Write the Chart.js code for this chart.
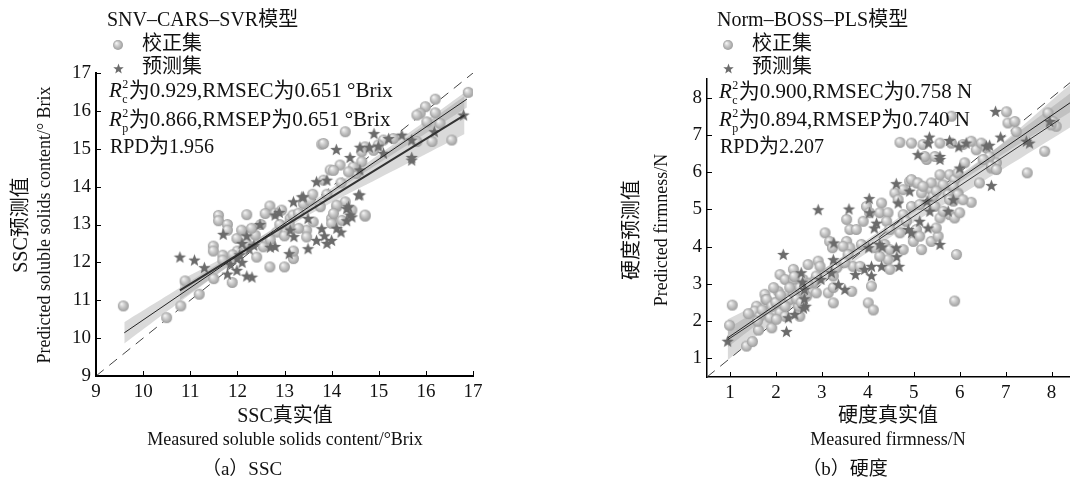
<!DOCTYPE html>
<html><head><meta charset="utf-8">
<script src="https://cdn.jsdelivr.net/npm/chart.js@4/dist/chart.umd.min.js"></script>
<style>
html,body{margin:0;padding:0;background:#fff;width:1070px;height:483px;overflow:hidden}
#wrap{position:relative;width:1070px;height:483px}
canvas{position:absolute;top:0;width:535px;height:483px}
#ca{left:0}#cb{left:535px}
</style></head><body>
<div id="wrap"><canvas id="ca" width="535" height="483"></canvas><canvas id="cb" width="535" height="483"></canvas></div>
<script>
// ---------- chart (a) SSC data ----------
const ticksA = [9,10,11,12,13,14,15,16,17];
const calA_x = [9.58,10.5,10.8,11.19,10.89,11.5,11.89,11.49,11.49,11.6,11.6,11.79,11.79,12.2,12.69,12.59,12.69,13.0,13.19,13.19,11.69,11.69,11.99,12.09,12.38,12.41,12.55,12.84,12.94,13.12,13.47,13.47,13.61,13.76,13.83,13.97,14.18,14.0,14.0,14.11,14.29,14.43,14.71,14.22,13.4,13.54,14.53,13.18,
 16.9,16.2,15.99,15.88,15.81,16.2,16.02,16.3,16.13,15.81,14.29,13.79,15.31,15.1,14.99,14.89,14.71,14.64,14.04,14.64,14.46,14.36,14.71,14.11,14.04,16.55,13.83,
 12.3,12.5,12.7,12.9,13.0,13.3,13.3,12.2,12.0,12.8,13.1,13.6,13.9,14.2,11.9];
const calA_y = [10.85,10.54,10.85,11.16,11.51,11.57,11.47,12.43,12.3,13.24,13.1,13.0,12.85,13.26,13.49,13.29,11.88,11.88,12.1,12.3,12.19,12.06,12.63,12.85,12.72,12.14,12.41,12.8,13.38,13.16,12.85,12.67,13.07,13.47,14.17,14.44,14.57,13.16,13.03,13.47,13.6,13.38,13.22,13.11,13.55,13.64,14.35,13.25,
 16.49,16.31,16.11,15.94,15.89,15.95,15.71,15.67,15.19,15.19,15.45,15.12,15.27,15.23,15.1,14.96,15.05,14.92,14.43,14.66,14.52,14.39,13.25,13.51,13.29,15.23,15.14,
 12.9,13.0,12.6,13.0,12.7,13.3,12.9,12.5,12.3,13.3,13.0,13.8,13.8,14.1,12.2];
const preA_x = [10.78,11.09,11.3,11.7,11.79,12.2,12.31,11.99,12.1,12.2,12.35,12.48,12.8,12.89,12.7,12.8,13.1,13.19,13.4,13.12,13.2,13.5,13.68,13.9,13.68,13.79,13.9,14.0,13.85,14.11,14.2,14.32,14.32,14.43,14.6,14.6,15.7,13.5,12.1,
 16.8,16.18,15.7,15.7,15.49,15.21,14.9,14.6,14.8,14.99,14.1,14.39,15.1,14.57,13.37,14.36,14.39,12.0,11.85,12.05,12.25];
const preA_y = [12.14,12.06,11.86,12.74,11.69,11.64,11.61,11.79,12.5,12.7,12.45,13.0,13.25,13.32,12.4,12.42,12.23,13.6,13.73,12.85,12.68,12.36,14.13,14.17,12.58,12.89,12.5,12.58,12.7,12.9,12.8,13.42,13.1,13.2,13.78,14.44,14.7,13.16,12.0,
 15.89,15.45,15.23,14.77,15.36,15.27,15.4,15.04,15.04,15.07,14.98,14.77,14.88,13.78,13.73,13.47,13.25,12.1,11.95,12.2,12.35];
const fitCalA_x = [9.6,16.87];   const fitCalA_y = [10.14,16.31];
const fitPreA_x = [10.78,16.82]; const fitPreA_y = [11.26,15.89];
const bandCalA_x = [9.6,11,12.5,14,15.5,16.87];
const bandCalA_hi = [10.42,11.5,12.68,13.96,15.29,16.53];
const bandCalA_lo = [9.86,11.16,12.52,13.80,15.01,16.09];
const bandPreA_x = [10.78,12,13,14,15,16.82];
const bandPreA_hi = [11.52,12.33,13.05,13.88,14.76,16.39];
const bandPreA_lo = [11.0,12.05,12.87,13.58,14.22,15.39];
const diagA = [9,17];

// ---------- chart (b) firmness data ----------
const ticksB = [1,2,3,4,5,6,7,8];
const calB_x = [1.05,0.99,1.36,1.49,1.62,1.91,1.58,1.76,1.78,2.09,2.2,2.38,2.05,2.7,2.92,2.96,3.07,3.17,3.23,3.14,3.25,3.25,2.67,2.88,3.54,3.61,3.75,3.9,3.54,3.61,3.68,3.65,3.46,4.01,4.12,4.08,3.97,4.04,4.3,4.26,4.44,4.41,4.48,4.37,4.48,4.44,4.48,4.15,4.26,4.59,4.66,4.7,4.77,4.91,5.06,4.95,5.17,5.13,5.06,4.99,5.13,5.17,5.28,5.38,5.42,5.46,5.57,5.53,5.64,5.38,5.53,5.49,5.78,5.89,5.96,5.75,5.86,5.78,5.89,5.64,5.96,6.0,5.93,5.89,6.11,6.25,6.43,6.69,6.8,7.47,
 2.3,2.38,2.49,2.52,2.09,2.2,1.87,2.01,1.8,1.91,1.54,1.65,2.52,2.59,2.38,3.32,3.25,2.88,2.81,3.57,3.5,3.83,3.86,4.77,4.84,
 7.02,7.05,7.2,7.23,4.7,4.95,5.2,5.46,5.24,5.57,5.82,6.07,6.36,6.47,6.25,6.58,6.65,7.85,7.92,8.03,8.1,7.99,5.86,5.96,6.07,5.78,5.57,5.38,5.49,6.51,6.69,6.8,4.95,5.09,5.2,4.77,5.82,
 1.4,1.6,1.7,2.0,2.1,2.3,2.45,2.6,2.7,2.2,1.95,2.4,2.55];
const calB_y = [2.43,1.89,1.33,1.45,1.76,1.82,2.4,2.72,2.58,3.25,3.12,3.39,2.8,3.52,3.61,3.47,4.37,4.14,3.97,2.76,2.9,2.49,2.67,2.76,4.73,4.46,4.46,4.68,4.14,3.97,3.47,2.8,4.01,2.49,2.3,2.94,5.08,4.91,5.17,4.91,4.91,4.68,4.46,4.06,3.92,3.65,3.39,3.97,3.74,5.44,5.26,4.37,3.92,5.75,5.71,5.08,5.44,5.13,4.46,4.14,4.28,3.92,6.34,5.53,5.35,5.08,4.77,5.71,5.66,4.14,4.28,4.5,5.93,5.8,5.98,5.4,5.22,4.86,4.77,4.95,5.44,4.91,3.79,2.54,6.25,5.19,5.71,6.11,6.25,5.98,
 2.58,2.76,2.4,2.13,2.23,2.13,2.09,2.05,2.58,2.4,2.27,2.13,2.9,3.12,3.12,3.43,3.21,3.21,3.03,3.79,3.57,3.47,4.06,4.86,4.68,
 7.62,7.32,7.36,7.09,6.8,6.78,6.74,6.42,6.42,6.78,6.78,6.74,6.6,6.78,6.83,6.65,6.42,6.56,7.59,7.36,7.23,7.27,5.62,5.4,5.26,5.26,5.93,5.71,5.49,6.34,6.16,6.07,5.8,5.71,5.62,5.53,7.5,
 2.2,2.0,2.3,2.5,2.7,2.9,2.6,2.8,3.0,2.4,2.9,3.2,2.5];
const preB_x = [0.95,2.16,2.23,2.27,2.41,2.55,2.58,2.62,2.62,2.65,2.6,2.92,2.98,3.25,3.21,3.26,3.36,3.5,3.59,3.73,3.93,4.03,4.04,4.02,4.08,4.08,4.14,4.19,4.26,4.31,4.3,4.62,4.66,4.62,4.63,4.68,4.91,4.88,4.95,5.13,5.29,5.31,5.35,5.57,5.75,5.86,6.0,6.69,5.57,6.78,5.34,5.32,5.78,5.98,6.14,6.58,6.65,6.89,5.09,5.57,7.45,7.52,7.96];
const preB_y = [1.46,3.79,1.72,2.09,2.18,3.3,3.05,2.85,2.6,2.4,2.35,4.99,3.12,3.65,3.3,4.1,2.98,2.85,5.01,3.25,3.39,5.29,4.91,3.97,3.47,3.22,4.5,4.63,4.06,3.99,3.47,5.69,5.17,3.97,3.73,3.47,5.49,4.46,4.37,4.68,5.22,4.5,4.95,4.06,4.95,5.26,6.11,5.64,6.34,7.63,6.94,6.78,6.85,6.68,6.78,6.7,6.72,6.94,6.47,6.42,6.83,6.78,7.36];
const fitCalB_x = [0.95,8.4];  const fitCalB_y = [1.55,7.86];
const fitPreB_x = [0.95,8.17]; const fitPreB_y = [1.5,7.41];
const bandCalB_x = [0.95,2.5,4.5,6.5,8.4];
const bandCalB_hi = [1.8,2.96,4.63,6.37,8.11];
const bandCalB_lo = [1.3,2.76,4.49,6.13,7.61];
const bandPreB_x = [0.95,2.5,4.5,6.5,8.4];
const bandPreB_hi = [2.05,3.02,4.56,6.35,8.35];
const bandPreB_lo = [0.95,2.52,4.26,5.75,7.2];
const diagB = [0.5,8.4];

// ---------- drawing helpers ----------
const SERIF = "'Liberation Serif','Times New Roman','Noto Sans CJK SC',serif";
function pts(xs, ys){ return xs.map((x,i)=>({x:x, y:ys[i]})); }
function sphere(d){
  const c=document.createElement('canvas'); c.width=c.height=d+2;
  const g=c.getContext('2d'); const r=d/2, cx=r+1, cy=r+1;
  const gr=g.createRadialGradient(cx-r*0.35,cy-r*0.4,r*0.05,cx,cy,r);
  gr.addColorStop(0,'#f6f6f6'); gr.addColorStop(0.45,'#cbcbcb'); gr.addColorStop(1,'#9d9d9d');
  g.fillStyle=gr; g.beginPath(); g.arc(cx,cy,r,0,Math.PI*2); g.fill(); return c;
}
function star(d,color){
  const c=document.createElement('canvas'); c.width=c.height=d+2;
  const g=c.getContext('2d'); const R=d/2, r=R*0.42, cx=R+1, cy=R+1.5;
  g.beginPath();
  for(let i=0;i<10;i++){ const a=-Math.PI/2+i*Math.PI/5; const rr=i%2?r:R; g.lineTo(cx+rr*Math.cos(a), cy+rr*Math.sin(a)); }
  g.closePath(); g.fillStyle=color; g.fill(); return c;
}
const SPH = sphere(11), STR = star(13,'#6b6b6b');
const SPH_L = sphere(10), STR_L = star(11,'#6b6b6b');

function txt(ctx,s,x,y,size,align,rot){
  ctx.save(); ctx.font=size+'px '+SERIF; ctx.fillStyle='#111'; ctx.textAlign=align||'left'; ctx.textBaseline='middle';
  if(rot){ ctx.translate(x,y); ctx.rotate(rot); ctx.fillText(s,0,0); } else ctx.fillText(s,x,y);
  ctx.restore();
}
function rich(ctx,x,y,sub,rest,size){
  ctx.save(); ctx.fillStyle='#111'; ctx.textBaseline='middle'; ctx.textAlign='left';
  ctx.font='italic '+size+'px '+SERIF; ctx.fillText('R',x,y);
  const w=ctx.measureText('R').width;
  ctx.font=Math.round(size*0.55)+'px '+SERIF;
  ctx.fillText('2',x+w+0.5,y-6); ctx.fillText(sub,x+w+0.5,y+9);
  const w2=Math.max(ctx.measureText('2').width,ctx.measureText(sub).width);
  ctx.font=size+'px '+SERIF; ctx.fillText(rest,x+w+w2+1,y);
  ctx.restore();
}

function makeChart(id, d){
  const ds = [
    {data:pts(d.fitCal_x,d.fitCal_y), showLine:true, borderColor:'#222', borderWidth:1, pointRadius:0, fill:false, order:0},
    {data:pts(d.fitPre_x,d.fitPre_y), showLine:true, borderColor:'#333', borderWidth:d.preW, pointRadius:0, fill:false, order:0},
    {data:pts(d.pre_x,d.pre_y), showLine:false, pointStyle:STR, pointRadius:6, order:1},
    {data:pts(d.cal_x,d.cal_y), showLine:false, pointStyle:SPH, pointRadius:6, order:2},
    {data:pts(d.diag,d.diag), showLine:true, borderColor:'#444', borderWidth:1, borderDash:[10,7], pointRadius:0, fill:false, order:3},
    {data:pts(d.bandCal_x,d.bandCal_hi), showLine:true, borderWidth:0, pointRadius:0, tension:0.4, fill:'+1', backgroundColor:'rgba(150,150,150,0.35)', order:4},
    {data:pts(d.bandCal_x,d.bandCal_lo), showLine:true, borderWidth:0, pointRadius:0, tension:0.4, fill:false, order:4},
    {data:pts(d.bandPre_x,d.bandPre_hi), showLine:true, borderWidth:0, pointRadius:0, tension:0.4, fill:'+1', backgroundColor:'rgba(150,150,150,0.35)', order:4},
    {data:pts(d.bandPre_x,d.bandPre_lo), showLine:true, borderWidth:0, pointRadius:0, tension:0.4, fill:false, order:4}
  ];
  const tickFont = {family:SERIF, size:19};
  const deco = {
    id:'deco'+id,
    afterDraw(chart){
      const ctx=chart.ctx, xs=chart.scales.x, ys=chart.scales.y, a=chart.chartArea;
      ctx.save(); ctx.strokeStyle='#000'; ctx.lineWidth=1;
      d.xt.forEach(v=>{ const p=Math.round(xs.getPixelForValue(v))+0.5; ctx.beginPath(); ctx.moveTo(p,a.bottom); ctx.lineTo(p,a.bottom-5); ctx.stroke(); });
      d.yt.forEach(v=>{ const p=Math.round(ys.getPixelForValue(v))+0.5; ctx.beginPath(); ctx.moveTo(a.left,p); ctx.lineTo(a.left+5,p); ctx.stroke(); });
      ctx.restore();
      const L=d.lay;
      txt(ctx,d.title,L.tx,21,20,'left');
      ctx.drawImage(SPH_L,L.mx-6,45-6); txt(ctx,'校正集',L.lx,45,20,'left');
      ctx.drawImage(STR_L,L.mx-6,68-6); txt(ctx,'预测集',L.lx,68,20,'left');
      rich(ctx,L.sx,L.s1,'c',d.s1,L.fs);
      rich(ctx,L.sx,L.s2,'p',d.s2,L.fs);
      txt(ctx,d.s3,L.sx+1,L.s3,20,'left');
      txt(ctx,d.xt1,L.xc,417,20,'center');
      txt(ctx,d.xt2,L.xc,440,18,'center');
      txt(ctx,d.cap,L.cc,470,19,'center');
      txt(ctx,d.yt1,L.y1x,L.yc,20,'center',-Math.PI/2);
      txt(ctx,d.yt2,L.y2x,L.yc,18,'center',-Math.PI/2);
    }
  };
  return new Chart(document.getElementById(id), {
    type:'line',
    data:{datasets:ds},
    plugins:[deco],
    options:{
      responsive:false, animation:false, events:[],
      layout:{autoPadding:false, padding:{left:0, top:d.top, right:d.right, bottom:0}},
      plugins:{legend:{display:false}, tooltip:{enabled:false}},
      scales:{
        x:{type:'linear', min:d.xmin, max:d.xmax,
           afterFit:s=>{s.height=d.xh; s.paddingLeft=0; s.paddingRight=0;}, afterBuildTicks:s=>{s.ticks=d.xt.map(v=>({value:v}));},
           grid:{drawOnChartArea:false, drawTicks:false}, border:{display:true,color:'#000',width:d.bw},
           ticks:{font:tickFont, color:'#111', padding:5, maxRotation:0, autoSkip:false}},
        y:{type:'linear', min:d.ymin, max:d.ymax,
           afterFit:s=>{s.width=d.yw; s.paddingTop=0; s.paddingBottom=0;}, afterBuildTicks:s=>{s.ticks=d.yt.map(v=>({value:v}));},
           grid:{drawOnChartArea:false, drawTicks:false}, border:{display:true,color:'#000',width:d.bw},
           ticks:{font:tickFont, color:'#111', padding:5, autoSkip:false}}
      }
    }
  });
}

makeChart('ca', {
  cal_x:calA_x, cal_y:calA_y, pre_x:preA_x, pre_y:preA_y,
  fitCal_x:fitCalA_x, fitCal_y:fitCalA_y, fitPre_x:fitPreA_x, fitPre_y:fitPreA_y,
  bandCal_x:bandCalA_x, bandCal_hi:bandCalA_hi, bandCal_lo:bandCalA_lo,
  bandPre_x:bandPreA_x, bandPre_hi:bandPreA_hi, bandPre_lo:bandPreA_lo,
  diag:diagA, xt:ticksA, yt:ticksA, xmin:9, xmax:17, ymin:9, ymax:17,
  top:73, right:62, xh:107, yw:96, bw:2, preW:2,
  title:'SNV–CARS–SVR模型', s1:'为0.929,RMSEC为0.651 °Brix', s2:'为0.866,RMSEP为0.651 °Brix', s3:'RPD为1.956',
  xt1:'SSC真实值', xt2:'Measured soluble solids content/°Brix', cap:'（a）SSC',
  yt1:'SSC预测值', yt2:'Predicted soluble solids content/° Brix',
  lay:{tx:107, mx:118, lx:142, sx:109, s1:91, s2:120, s3:148, fs:21, xc:285, cc:242, y1x:22, y2x:45, yc:225}
});
makeChart('cb', {
  cal_x:calB_x, cal_y:calB_y, pre_x:preB_x, pre_y:preB_y,
  fitCal_x:fitCalB_x, fitCal_y:fitCalB_y, fitPre_x:fitPreB_x, fitPre_y:fitPreB_y,
  bandCal_x:bandCalB_x, bandCal_hi:bandCalB_hi, bandCal_lo:bandCalB_lo,
  bandPre_x:bandPreB_x, bandPre_hi:bandPreB_hi, bandPre_lo:bandPreB_lo,
  diag:diagB, xt:ticksB, yt:ticksB, xmin:0.5, xmax:8.4, ymin:0.5, ymax:8.5,
  top:79, right:0, xh:106, yw:172, bw:1.5, preW:1,
  title:'Norm–BOSS–PLS模型', s1:'为0.900,RMSEC为0.758 N', s2:'为0.894,RMSEP为0.740 N', s3:'RPD为2.207',
  xt1:'硬度真实值', xt2:'Measured firmness/N', cap:'（b）硬度',
  yt1:'硬度预测值', yt2:'Predicted firmness/N',
  lay:{tx:182, mx:193, lx:217, sx:184, s1:92, s2:120, s3:148, fs:21, xc:353, cc:310, y1x:98, y2x:127, yc:230}
});
</script>
</body></html>
